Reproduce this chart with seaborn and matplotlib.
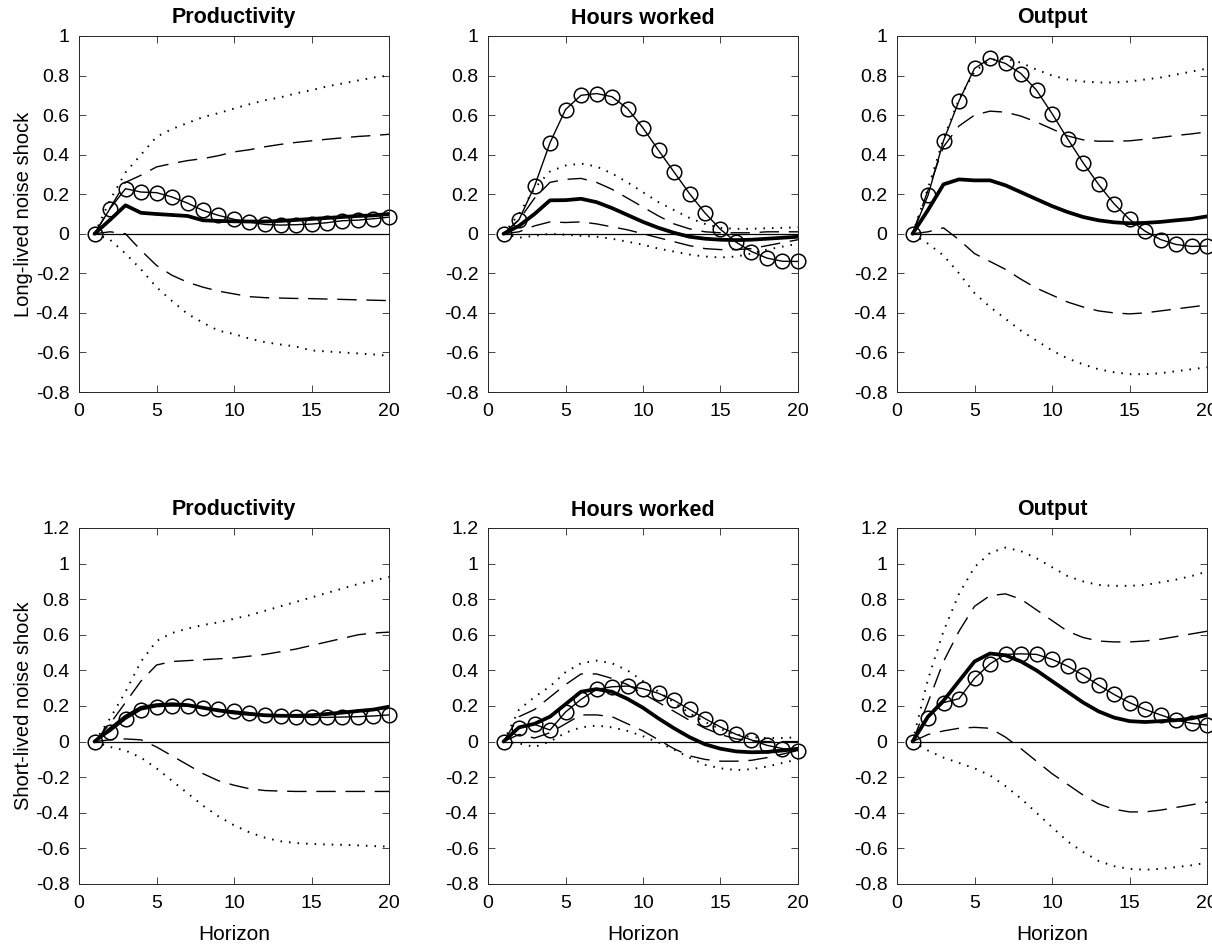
import numpy as np
import pandas as pd
import seaborn as sns
import matplotlib
matplotlib.use("Agg")
import matplotlib.pyplot as plt

horizon = list(range(1, 21))

# long-lived noise shock (top row)
long_prod_circ = [0, 0.127, 0.228, 0.211, 0.208, 0.186, 0.155, 0.118, 0.093, 0.073, 0.059, 0.047, 0.044, 0.046, 0.049, 0.056, 0.066, 0.069, 0.076, 0.084]
long_prod_med = [0, 0.07, 0.144, 0.106, 0.10, 0.095, 0.09, 0.068, 0.065, 0.063, 0.062, 0.062, 0.065, 0.07, 0.075, 0.08, 0.085, 0.09, 0.093, 0.10]
long_prod_hi68 = [0, 0.13, 0.26, 0.296, 0.338, 0.355, 0.37, 0.38, 0.395, 0.414, 0.425, 0.44, 0.452, 0.462, 0.47, 0.478, 0.485, 0.492, 0.497, 0.503]
long_prod_hi90 = [0, 0.17, 0.31, 0.40, 0.49, 0.53, 0.56, 0.59, 0.61, 0.633, 0.655, 0.675, 0.69, 0.71, 0.726, 0.745, 0.76, 0.775, 0.79, 0.80]
long_prod_lo68 = [0, 0.01, 0.0, -0.084, -0.16, -0.21, -0.245, -0.27, -0.29, -0.304, -0.318, -0.323, -0.325, -0.327, -0.328, -0.33, -0.332, -0.334, -0.336, -0.338]
long_prod_lo90 = [0, -0.03, -0.10, -0.18, -0.27, -0.34, -0.405, -0.45, -0.49, -0.507, -0.53, -0.548, -0.56, -0.57, -0.59, -0.595, -0.60, -0.605, -0.61, -0.617]

long_hours_circ = [0, 0.071, 0.24, 0.46, 0.628, 0.70, 0.709, 0.693, 0.633, 0.535, 0.422, 0.3125, 0.203, 0.105, 0.022, -0.042, -0.09, -0.123, -0.139, -0.14]
long_hours_med = [0, 0.04, 0.10, 0.169, 0.17, 0.177, 0.16, 0.13, 0.095, 0.06, 0.03, 0.005, -0.015, -0.025, -0.03, -0.032, -0.03, -0.025, -0.02, -0.015]
long_hours_hi68 = [0, 0.07, 0.18, 0.26, 0.275, 0.28, 0.26, 0.225, 0.18, 0.135, 0.09, 0.05, 0.025, 0.01, 0.005, 0.005, 0.005, 0.01, 0.01, 0.01]
long_hours_hi90 = [0, 0.10, 0.23, 0.315, 0.345, 0.355, 0.34, 0.305, 0.26, 0.21, 0.16, 0.12, 0.08, 0.05, 0.03, 0.025, 0.025, 0.028, 0.03, 0.033]
long_hours_lo68 = [0, 0.01, 0.04, 0.06, 0.057, 0.06, 0.05, 0.035, 0.02, 0.0, -0.02, -0.04, -0.06, -0.075, -0.08, -0.08, -0.075, -0.06, -0.045, -0.03]
long_hours_lo90 = [0, -0.02, -0.01, 0.0, -0.005, -0.01, -0.015, -0.025, -0.04, -0.055, -0.075, -0.09, -0.105, -0.115, -0.12, -0.115, -0.10, -0.08, -0.065, -0.05]

long_out_circ = [0, 0.194, 0.47, 0.672, 0.836, 0.887, 0.861, 0.81, 0.726, 0.608, 0.481, 0.36, 0.25, 0.152, 0.073, 0.0135, -0.029, -0.054, -0.064, -0.062]
long_out_med = [0, 0.12, 0.25, 0.275, 0.27, 0.27, 0.245, 0.21, 0.175, 0.14, 0.11, 0.085, 0.068, 0.058, 0.053, 0.055, 0.06, 0.068, 0.075, 0.088]
long_out_hi68 = [0, 0.22, 0.44, 0.545, 0.60, 0.62, 0.615, 0.595, 0.565, 0.53, 0.495, 0.475, 0.468, 0.468, 0.47, 0.478, 0.487, 0.497, 0.505, 0.515]
long_out_hi90 = [0, 0.23, 0.48, 0.68, 0.82, 0.88, 0.885, 0.865, 0.83, 0.80, 0.78, 0.77, 0.765, 0.765, 0.77, 0.78, 0.79, 0.805, 0.82, 0.835]
long_out_lo68 = [0, 0.01, 0.03, -0.03, -0.10, -0.14, -0.18, -0.23, -0.275, -0.31, -0.345, -0.37, -0.39, -0.40, -0.405, -0.40, -0.39, -0.38, -0.37, -0.36]
long_out_lo90 = [0, -0.05, -0.11, -0.20, -0.30, -0.37, -0.43, -0.49, -0.54, -0.59, -0.63, -0.66, -0.685, -0.70, -0.71, -0.71, -0.705, -0.695, -0.685, -0.675]

# short-lived noise shock (bottom row)
short_prod_circ = [0, 0.056, 0.125, 0.178, 0.196, 0.20, 0.20, 0.19, 0.181, 0.172, 0.163, 0.15, 0.144, 0.138, 0.136, 0.136, 0.138, 0.14, 0.144, 0.15]
short_prod_med = [0, 0.07, 0.14, 0.19, 0.205, 0.21, 0.205, 0.19, 0.175, 0.163, 0.155, 0.148, 0.145, 0.145, 0.148, 0.155, 0.163, 0.172, 0.18, 0.196]
short_prod_hi68 = [0, 0.10, 0.22, 0.34, 0.43, 0.45, 0.455, 0.46, 0.465, 0.47, 0.48, 0.49, 0.505, 0.52, 0.54, 0.56, 0.58, 0.60, 0.61, 0.615]
short_prod_hi90 = [0, 0.13, 0.28, 0.45, 0.565, 0.61, 0.635, 0.655, 0.67, 0.69, 0.71, 0.735, 0.76, 0.785, 0.81, 0.835, 0.86, 0.885, 0.905, 0.925]
short_prod_lo68 = [0, 0.01, 0.015, 0.01, -0.03, -0.08, -0.13, -0.18, -0.22, -0.245, -0.265, -0.275, -0.278, -0.28, -0.28, -0.28, -0.28, -0.28, -0.28, -0.28]
short_prod_lo90 = [0, -0.03, -0.05, -0.09, -0.15, -0.22, -0.29, -0.36, -0.42, -0.47, -0.51, -0.54, -0.56, -0.57, -0.575, -0.578, -0.58, -0.583, -0.587, -0.59]

short_hours_circ = [0, 0.078, 0.097, 0.065, 0.166, 0.237, 0.293, 0.308, 0.312, 0.297, 0.271, 0.232, 0.181, 0.129, 0.082, 0.041, 0.009, -0.021, -0.039, -0.052]
short_hours_med = [0, 0.08, 0.10, 0.14, 0.21, 0.28, 0.295, 0.28, 0.24, 0.19, 0.13, 0.075, 0.025, -0.015, -0.04, -0.055, -0.06, -0.058, -0.05, -0.04]
short_hours_hi68 = [0, 0.14, 0.18, 0.25, 0.32, 0.38, 0.38, 0.355, 0.32, 0.27, 0.22, 0.17, 0.12, 0.075, 0.04, 0.015, 0.005, 0.0, 0.0, 0.0]
short_hours_hi90 = [0, 0.18, 0.25, 0.31, 0.39, 0.44, 0.455, 0.44, 0.40, 0.34, 0.28, 0.22, 0.16, 0.11, 0.07, 0.04, 0.025, 0.02, 0.02, 0.025]
short_hours_lo68 = [0, 0.04, 0.02, 0.05, 0.10, 0.15, 0.15, 0.14, 0.10, 0.06, 0.01, -0.04, -0.08, -0.10, -0.11, -0.11, -0.105, -0.09, -0.07, -0.05]
short_hours_lo90 = [0, -0.01, -0.03, 0.0, 0.05, 0.08, 0.09, 0.08, 0.06, 0.03, -0.005, -0.045, -0.09, -0.13, -0.15, -0.16, -0.155, -0.14, -0.12, -0.10]

short_out_circ = [0, 0.135, 0.219, 0.241, 0.355, 0.437, 0.49, 0.493, 0.49, 0.462, 0.424, 0.374, 0.318, 0.265, 0.219, 0.181, 0.15, 0.121, 0.103, 0.093]
short_out_med = [0, 0.14, 0.23, 0.34, 0.45, 0.495, 0.485, 0.45, 0.40, 0.34, 0.28, 0.22, 0.17, 0.135, 0.115, 0.11, 0.115, 0.12, 0.13, 0.15]
short_out_hi68 = [0, 0.22, 0.45, 0.62, 0.76, 0.82, 0.83, 0.80, 0.74, 0.68, 0.62, 0.585, 0.565, 0.56, 0.56, 0.565, 0.575, 0.59, 0.605, 0.62]
short_out_hi90 = [0, 0.35, 0.62, 0.83, 0.98, 1.06, 1.09, 1.07, 1.03, 0.98, 0.93, 0.90, 0.88, 0.875, 0.875, 0.88, 0.895, 0.91, 0.93, 0.955]
short_out_lo68 = [0, 0.04, 0.06, 0.075, 0.08, 0.075, 0.025, -0.04, -0.11, -0.18, -0.24, -0.30, -0.35, -0.38, -0.395, -0.395, -0.385, -0.37, -0.355, -0.34]
short_out_lo90 = [0, -0.05, -0.09, -0.12, -0.15, -0.19, -0.25, -0.32, -0.40, -0.48, -0.56, -0.62, -0.67, -0.70, -0.715, -0.72, -0.715, -0.705, -0.695, -0.68]

titles = ["Productivity", "Hours worked", "Output"]
row_labels = ["Long-lived noise shock", "Short-lived noise shock"]

panels = [
    [(long_prod_circ, long_prod_med, long_prod_hi68, long_prod_lo68, long_prod_hi90, long_prod_lo90),
     (long_hours_circ, long_hours_med, long_hours_hi68, long_hours_lo68, long_hours_hi90, long_hours_lo90),
     (long_out_circ, long_out_med, long_out_hi68, long_out_lo68, long_out_hi90, long_out_lo90)],
    [(short_prod_circ, short_prod_med, short_prod_hi68, short_prod_lo68, short_prod_hi90, short_prod_lo90),
     (short_hours_circ, short_hours_med, short_hours_hi68, short_hours_lo68, short_hours_hi90, short_hours_lo90),
     (short_out_circ, short_out_med, short_out_hi68, short_out_lo68, short_out_hi90, short_out_lo90)],
]

sns.set_style("ticks")
plt.rcParams["font.family"] = ["Liberation Sans", "DejaVu Sans"]
plt.rcParams["axes.unicode_minus"] = False
plt.rcParams["text.color"] = "black"
plt.rcParams["axes.labelcolor"] = "black"
plt.rcParams["xtick.labelcolor"] = "black"
plt.rcParams["ytick.labelcolor"] = "black"

fig = plt.figure(figsize=(12.12, 9.52), dpi=100)

lefts = [79 / 1212, 488 / 1212, 897 / 1212]
width = 310 / 1212
bottoms = [1 - 392 / 952, 1 - 884 / 952]
height = 356 / 952
ylims = [(-0.8, 1.0), (-0.8, 1.2)]

for r in range(2):
    for c in range(3):
        ax = fig.add_axes([lefts[c], bottoms[r], width, height])
        circ, med, hi68, lo68, hi90, lo90 = panels[r][c]
        sns.lineplot(x=horizon, y=[0] * 20, ax=ax, color="k", linewidth=0.9)
        for band in (hi90, lo90):
            sns.lineplot(x=horizon, y=band, ax=ax, color="k", linewidth=1.4,
                         linestyle=(0, (0.8, 3.6)))
        for band in (hi68, lo68):
            sns.lineplot(x=horizon, y=band, ax=ax, color="k", linewidth=1.0,
                         linestyle=(0, (14, 7)))
        sns.lineplot(x=horizon, y=med, ax=ax, color="k", linewidth=2.7)
        sns.lineplot(x=horizon, y=circ, ax=ax, color="k", linewidth=1.0,
                     marker="o", markersize=10.5, markerfacecolor="none",
                     markeredgecolor="k", markeredgewidth=1.1, clip_on=False)
        ax.set_xlim(0, 20)
        ax.set_ylim(*ylims[r])
        ax.set_xticks([0, 5, 10, 15, 20])
        yt = np.round(np.arange(ylims[r][0], ylims[r][1] + 0.001, 0.2), 1) + 0.0
        ax.set_yticks(yt)
        ax.set_yticklabels(["%g" % (0 if abs(v) < 1e-9 else v) for v in yt])
        ax.tick_params(direction="in", top=True, right=True, length=5,
                       width=0.6, labelsize=14, color="#262626", labelcolor="black")
        ax.tick_params(axis="x", pad=8)
        ax.tick_params(axis="y", pad=7)
        for s in ax.spines.values():
            s.set_linewidth(0.7)
            s.set_color("#262626")
        ax.set_title(titles[c], fontweight="bold", fontsize=15.5, pad=9, color="black")
        ax.set_xlabel("Horizon" if r == 1 else "", fontsize=15, labelpad=9)
        ax.set_ylabel(row_labels[r] if c == 0 else "", fontsize=14.5, labelpad=2)

fig.savefig("out.png", dpi=100)
